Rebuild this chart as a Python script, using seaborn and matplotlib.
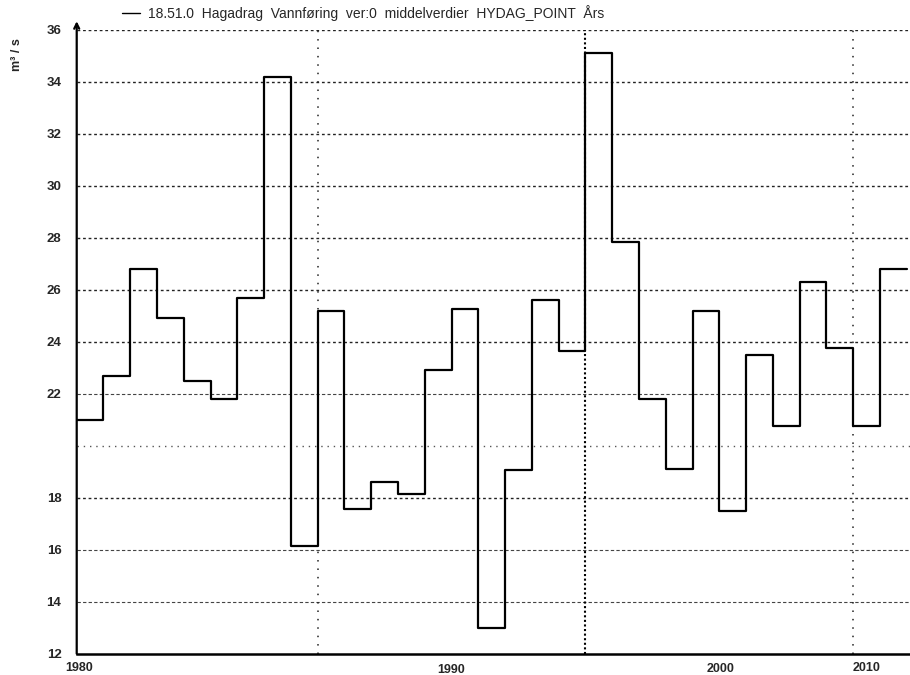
import pandas as pd
import seaborn as sns
import matplotlib.pyplot as plt
import matplotlib.transforms as mtransforms

# annual mean discharge, one value per year (step starts at the year)
years = list(range(1980, 2011))
flow = [21.0, 22.7, 26.8, 24.9, 22.5, 21.8, 25.7, 34.2, 16.15, 25.2,
        17.55, 18.6, 18.15, 22.9, 25.25, 13.0, 19.05, 25.6, 23.65, 35.1,
        27.85, 21.8, 19.1, 25.2, 17.5, 23.5, 20.75, 26.3, 23.75, 20.75, 26.8]

series_label = "18.51.0  Hagadrag  Vannføring  ver:0  middelverdier  HYDAG_POINT  Års"
y_label = "m³ / s"

ytick_values = [12, 14, 16, 18, 22, 24, 26, 28, 30, 32, 34, 36]
ytick_labels = ["12", "14", "16", "18", "22", "24", "26", "28", "30", "32", "34", "36"]
zero_level = 20
xmajor_years = [1989, 1999, 2009]
xlabel_years = [1980.1, 1994.0, 2004.05, 2009.5]
xlabel_texts = ["1980", "1990", "2000", "2010"]

sns.set_style("white")
plt.rcParams['font.family'] = ['Liberation Sans', 'DejaVu Sans']

fig = plt.figure(figsize=(9.1, 6.75), dpi=100)
ax = fig.add_axes([0.0843, 0.0316, 0.9157, 0.924])

# close the last step by repeating the last value one year later
df = pd.DataFrame({"year": years + [years[-1] + 1], "flow": flow + [flow[-1]]})

# grid first so the step line sits on top
for v in ytick_values[1:]:
    if v in (14, 16, 22):
        ax.axhline(v, color="#444444", lw=0.8, ls=(0, (3, 2)), zorder=1)
    else:
        ax.axhline(v, color="#222222", lw=1.0, ls=(0, (2, 2)), zorder=1)
ax.axhline(zero_level, color="#555555", lw=1.0, ls=(0, (1, 3.5)), zorder=1)
for yr in xmajor_years:
    if yr == 1999:
        ax.axvline(yr, color="black", lw=1.5, ls=(0, (1, 1.2)), zorder=1)
    else:
        ax.axvline(yr, color="#222222", lw=1.1, ls=(0, (1, 4.5)), zorder=1)

sns.lineplot(data=df, x="year", y="flow", drawstyle="steps-post",
             color="black", linewidth=1.6, ax=ax, label=series_label, zorder=3)

ax.set_xlim(1980, 2011.12)
ax.set_ylim(12, 36)
ax.set_xlabel("")
ax.set_ylabel("")

ax.set_yticks(ytick_values)
ax.set_yticklabels(ytick_labels)
ax.set_yticks([zero_level], minor=True)
ax.tick_params(axis="y", which="major", length=4, width=1.3, direction="out",
               color="black", labelsize=9.5, pad=7)
ax.tick_params(axis="y", which="minor", length=7, width=1.6, direction="out", color="black")
for lab in ax.get_yticklabels():
    lab.set_fontweight("bold")

ax.set_xticks(xmajor_years)
ax.set_xticklabels([])
ax.set_xticks([y for y in range(1981, 2012) if y not in xmajor_years], minor=True)
ax.tick_params(axis="x", which="major", length=6.5, width=1.4, direction="out", color="black")
ax.tick_params(axis="x", which="minor", length=3, width=1.0, direction="out", color="black")
heavy = ax.xaxis.get_major_ticks()[1]
heavy.tick1line.set_markeredgewidth(2.4)
heavy.tick1line.set_markersize(10)

trans = mtransforms.blended_transform_factory(ax.transData, ax.transAxes)
drops = [0.014, 0.016, 0.0155, 0.014]
for xv, txt, d in zip(xlabel_years, xlabel_texts, drops):
    ax.text(xv, -d, txt, transform=trans, ha="center", va="top",
            fontsize=9, fontweight="bold", clip_on=False)

for side in ["top", "right", "left"]:
    ax.spines[side].set_visible(False)
ax.spines["bottom"].set_linewidth(1.8)
ax.spines["bottom"].set_color("black")
ax.annotate("", xy=(0, 1.014), xytext=(0, 0), xycoords="axes fraction",
            arrowprops=dict(arrowstyle="->", lw=1.6, color="black",
                            mutation_scale=9, shrinkA=0, shrinkB=0))

ax.legend(loc="center left", bbox_to_anchor=(122 / 910, 1 - 13 / 675),
          bbox_transform=fig.transFigure, frameon=False, fontsize=10,
          handlelength=1.3, handletextpad=0.55, borderpad=0, borderaxespad=0)
leg = ax.get_legend()
leg.get_lines()[0].set_linewidth(1.0)

fig.text(17 / 910, 1 - 55 / 675, y_label, rotation=90, ha="center", va="center",
         fontsize=9, fontweight="bold")

fig.savefig("out.png", dpi=100)
